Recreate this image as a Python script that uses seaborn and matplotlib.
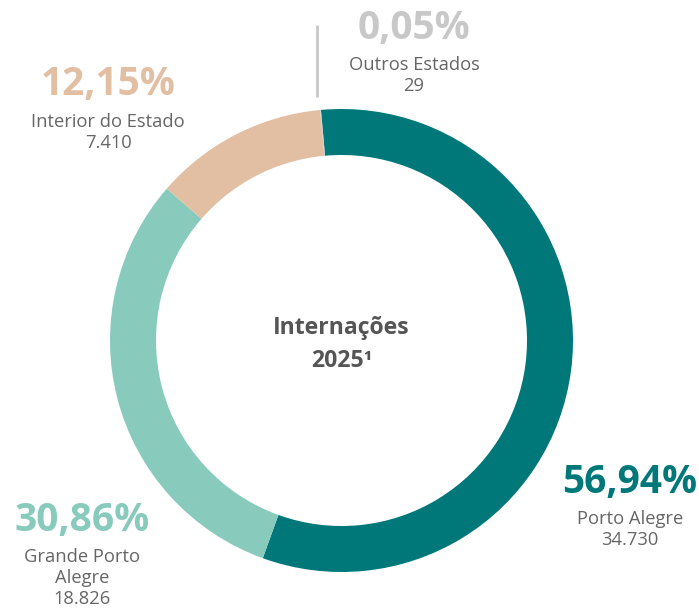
import matplotlib
matplotlib.use("Agg")
import matplotlib.pyplot as plt
import seaborn as sns

# data
regions = ["Porto Alegre", "Grande Porto Alegre", "Interior do Estado", "Outros Estados"]
counts = [34730, 18826, 7410, 29]
pct_labels = ["56,94%", "30,86%", "12,15%", "0,05%"]
count_labels = ["34.730", "18.826", "7.410", "29"]
name_labels = ["Porto Alegre", "Grande Porto\nAlegre", "Interior do Estado", "Outros Estados"]
colors = ["#00787A", "#88CBBD", "#E2BFA2", "#C8C8C8"]

sns.set_theme(style="white")
plt.rcParams["font.family"] = ["Open Sans", "DejaVu Sans"]

W, H = 699, 609
fig = plt.figure(figsize=(W / 100, H / 100), dpi=100)
ax = fig.add_axes([0, 0, 1, 1])

# donut
ax.pie(counts, colors=colors, startangle=95.1, counterclock=False,
       center=(341.5, H - 340.5), radius=231.5,
       wedgeprops=dict(width=46, linewidth=0), frame=True)
ax.set_xlim(0, W)
ax.set_ylim(0, H)
ax.set_aspect("equal")
ax.axis("off")

# leader line for the tiny slice
ax.plot([317, 317], [H - 25, H - 97], color="#C8C8C8", lw=2, solid_capstyle="butt")

# label positions (image px, centre of percentage text)
pos = [(630, 482), (82, 520), (108, 85), (414, 28)]
gray = "#666666"
for i in range(len(regions)):
    x, y = pos[i]
    ax.text(x, H - y, pct_labels[i], color=colors[i], fontsize=28, fontweight="bold",
            ha="center", va="center")
    ax.text(x, H - (y + 28), name_labels[i] + "\n" + count_labels[i], color=gray,
            fontsize=13.2, ha="center", va="top", linespacing=1.2)

ax.text(341.5, H - 328, "Internações", color="#555555", fontsize=16.6, fontweight="bold",
        ha="center", va="center")
ax.text(341.5, H - 361, "2025¹", color="#555555", fontsize=16.6, fontweight="bold",
        ha="center", va="center")

fig.savefig("out.png", dpi=100, facecolor="white")
